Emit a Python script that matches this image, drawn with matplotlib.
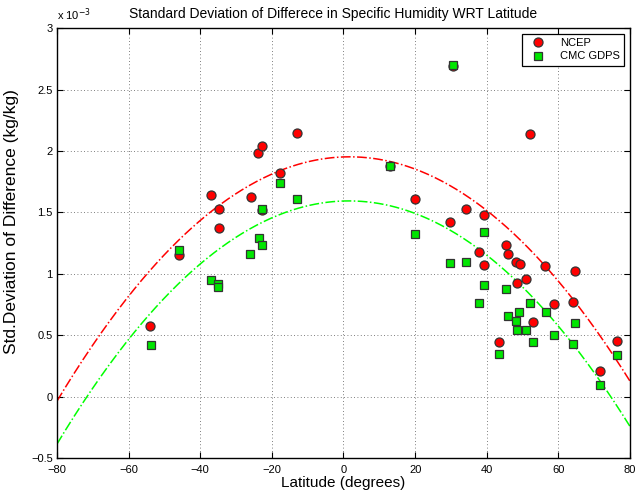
import numpy as np
import matplotlib
matplotlib.use("Agg")
import matplotlib.pyplot as plt

plt.rcParams['font.family'] = ['Liberation Sans', 'DejaVu Sans']

# Station latitudes (degrees) and std. deviation of difference (x 1e-3 kg/kg)
ncep_lat = [-53.9, -45.8, -37.0, -34.9, -34.7, -25.9, -23.8, -22.7, -22.7, -17.8, -13.1,
            12.9, 20.0, 29.7, 30.7, 34.3, 37.8, 39.2, 39.2, 43.5, 45.5, 45.9, 48.2, 48.4,
            49.2, 50.9, 52.1, 52.9, 56.4, 58.8, 64.1, 64.6, 71.6, 76.5]
ncep_std = [0.576, 1.149, 1.643, 1.524, 1.376, 1.624, 1.984, 2.043, 1.516, 1.824, 2.146,
            1.880, 1.605, 1.420, 2.690, 1.527, 1.180, 1.480, 1.070, 0.446, 1.235, 1.160, 1.095, 0.922,
            1.076, 0.957, 2.134, 0.609, 1.065, 0.757, 0.768, 1.022, 0.210, 0.452]

cmc_lat = [-53.8, -45.8, -37.0, -35.0, -35.1, -26.0, -23.7, -22.7, -22.8, -17.8, -13.0,
           12.9, 20.0, 29.7, 30.7, 34.3, 37.9, 39.2, 39.2, 43.5, 45.5, 46.0, 48.2, 48.4,
           49.1, 51.0, 52.2, 52.9, 56.5, 58.8, 64.1, 64.6, 71.6, 76.5]
cmc_std = [0.422, 1.194, 0.950, 0.917, 0.895, 1.162, 1.292, 1.238, 1.524, 1.738, 1.608,
           1.880, 1.324, 1.087, 2.697, 1.097, 0.760, 1.340, 0.911, 0.349, 0.878, 0.657, 0.617, 0.546,
           0.692, 0.541, 0.760, 0.446, 0.690, 0.498, 0.430, 0.603, 0.093, 0.336]

# Quadratic fits: peak value, latitude of peak, curvature
ncep_fit = [1.952, 1.7, 2.98e-4]
cmc_fit = [1.593, 1.5, 2.98e-4]

x_ticks = [-80, -60, -40, -20, 0, 20, 40, 60, 80]
y_ticks = [-0.5, 0, 0.5, 1, 1.5, 2, 2.5, 3]

fig = plt.figure(figsize=(6.38, 4.93), dpi=100)
ax = fig.add_axes([0.0893, 0.071, 0.8982, 0.872])

lat = np.linspace(-80, 80, 400)
def quad(p, x):
    return p[0] - p[2] * (x - p[1]) ** 2

ax.plot(lat, quad(ncep_fit, lat), color=(1, 0, 0), ls='-.', lw=1.1, zorder=2)
ax.plot(lat, quad(cmc_fit, lat), color=(0, 1, 0), ls='-.', lw=1.1, zorder=2)

ax.plot(ncep_lat, ncep_std, 'o', ms=6.5, mfc=(1, 0, 0), mec='#333333', mew=0.9,
        ls='none', label='NCEP', zorder=3)
ax.plot(cmc_lat, cmc_std, 's', ms=5.4, mfc=(0, 0.9, 0), mec='#333333', mew=0.9,
        ls='none', label='CMC GDPS', zorder=4)

ax.set_xlim(-80, 80)
ax.set_ylim(-0.5, 3)
ax.set_xticks(x_ticks)
ax.set_yticks(y_ticks)
ax.set_xticklabels([str(t).replace('-', '\u2212') for t in x_ticks], fontsize=8)
ax.set_yticklabels(['\u22120.5', '0', '0.5', '1', '1.5', '2', '2.5', '3'], fontsize=8)
ax.tick_params(direction='in', length=4, width=0.8, top=True, right=True)
ax.tick_params(axis='x', pad=5)
ax.tick_params(axis='y', pad=3)
ax.grid(True, ls=(0, (1, 3)), color='#555555', lw=0.6)
for s in ax.spines.values():
    s.set_linewidth(1.0)

ax.set_title('Standard Deviation of Differece in Specific Humidity WRT Latitude',
             fontsize=10, pad=7, x=0.482)
ax.set_xlabel('Latitude (degrees)', fontsize=11, labelpad=1)
ax.set_ylabel('Std.Deviation of Difference (kg/kg)', fontsize=12.5, labelpad=3)
ax.yaxis.set_label_coords(-0.066, 0.55)
ax.text(0.0, 1.012, 'x 10$^{-3}$', transform=ax.transAxes, fontsize=8,
        ha='left', va='bottom')

leg = ax.legend(loc='upper right', fontsize=8, fancybox=False, framealpha=1,
                edgecolor='black', borderaxespad=0.5, handletextpad=1.0,
                borderpad=0.4, labelspacing=0.3)
leg.get_frame().set_linewidth(0.9)

fig.savefig('out.png', dpi=100)
